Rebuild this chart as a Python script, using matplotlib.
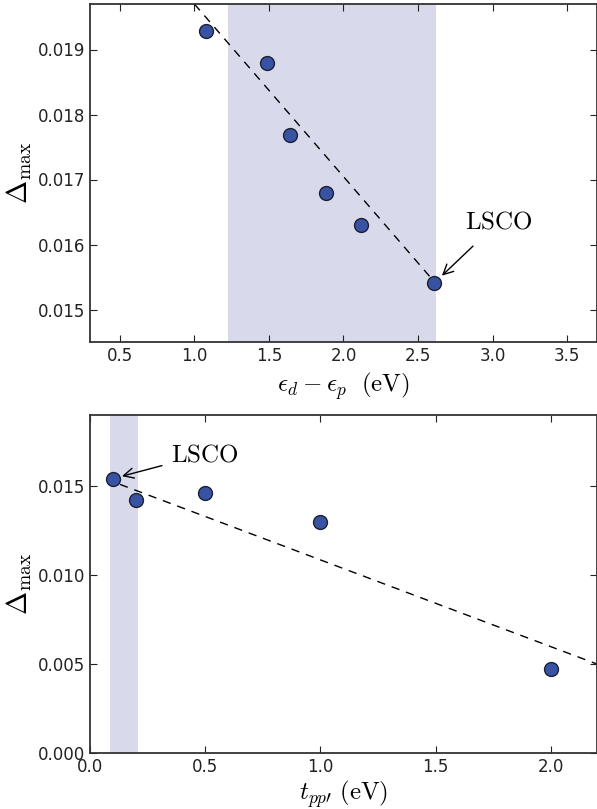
import matplotlib
matplotlib.use('Agg')
import matplotlib.pyplot as plt

# top panel: charge-transfer energy
ed_ep = [1.08, 1.49, 1.64, 1.88, 2.12, 2.61]
delta_top = [0.01929, 0.01880, 0.01769, 0.01680, 0.01630, 0.01541]
fit_top_x = [1.0, 2.6]
fit_top_y = [0.0197, 0.01545]
span_top = (1.225, 2.62)

# bottom panel: oxygen-oxygen hopping
tpp = [0.1, 0.2, 0.5, 1.0, 2.0]
delta_bot = [0.0154, 0.0142, 0.0146, 0.0130, 0.0047]
fit_bot_x = [0.13, 2.2]
fit_bot_y = [0.0151, 0.0050]
span_bot = (0.087, 0.208)

plt.rcParams['mathtext.fontset'] = 'cm'
plt.rcParams['xtick.direction'] = 'in'
plt.rcParams['ytick.direction'] = 'in'
plt.rcParams['xtick.top'] = True
plt.rcParams['ytick.right'] = True
plt.rcParams['xtick.major.size'] = 5
plt.rcParams['ytick.major.size'] = 5
plt.rcParams['axes.linewidth'] = 1.3
plt.rcParams['axes.edgecolor'] = '#333333'

W, H = 597, 809
fig = plt.figure(figsize=(W / 100, H / 100), dpi=100)
ax1 = fig.add_axes([90 / W, 1 - 342 / H, 507 / W, 338 / H])
ax2 = fig.add_axes([90 / W, 1 - 753 / H, 507 / W, 338 / H])

mk = dict(ls='none', marker='o', ms=10, mfc='#3953a4', mec='#1c2033', mew=1, zorder=3)
shade = '#d8daec'

ax1.axvspan(*span_top, color=shade, lw=0, zorder=0)
ax1.plot(fit_top_x, fit_top_y, 'k--', lw=1, dashes=(6, 5), zorder=2)
ax1.plot(ed_ep, delta_top, **mk)
ax1.set_xlim(0.3, 3.7)
ax1.set_ylim(0.0145, 0.0197)
ax1.set_xticks([0.5, 1.0, 1.5, 2.0, 2.5, 3.0, 3.5])
ax1.set_yticks([0.015, 0.016, 0.017, 0.018, 0.019])
ax1.set_xlabel(r'$\epsilon_d - \epsilon_p\ \ (\mathrm{eV})$', fontsize=18, labelpad=4)
ax1.set_ylabel(r'$\Delta_{\max}$', fontsize=20, labelpad=3)
ax1.annotate(r'$\mathrm{LSCO}$', xy=(2.66, 0.01552), xytext=(3.04, 0.01635),
             fontsize=18, ha='center', va='center',
             arrowprops=dict(arrowstyle='->', color='k', lw=1, shrinkA=10, shrinkB=0))

ax2.axvspan(*span_bot, color=shade, lw=0, zorder=0)
ax2.plot(fit_bot_x, fit_bot_y, 'k--', lw=1, dashes=(6, 5), zorder=2)
ax2.plot(tpp, delta_bot, **mk)
ax2.set_xlim(0.0, 2.2)
ax2.set_ylim(0.0, 0.019)
ax2.set_xticks([0.0, 0.5, 1.0, 1.5, 2.0])
ax2.set_yticks([0.000, 0.005, 0.010, 0.015])
ax2.set_xlabel(r'$t_{pp\prime}\ (\mathrm{eV})$', fontsize=18, labelpad=2)
ax2.set_ylabel(r'$\Delta_{\max}$', fontsize=20, labelpad=3)
ax2.annotate(r'$\mathrm{LSCO}$', xy=(0.139, 0.01556), xytext=(0.5, 0.0168),
             fontsize=18, ha='center', va='center',
             arrowprops=dict(arrowstyle='->', color='k', lw=1, shrinkA=5, shrinkB=0))

for ax in (ax1, ax2):
    ax.tick_params(labelsize=12, colors='#222222')
    ax.yaxis.set_major_formatter(matplotlib.ticker.FormatStrFormatter('%.3f'))
    ax.xaxis.set_major_formatter(matplotlib.ticker.FormatStrFormatter('%.1f'))

fig.savefig('out.png', dpi=100)
